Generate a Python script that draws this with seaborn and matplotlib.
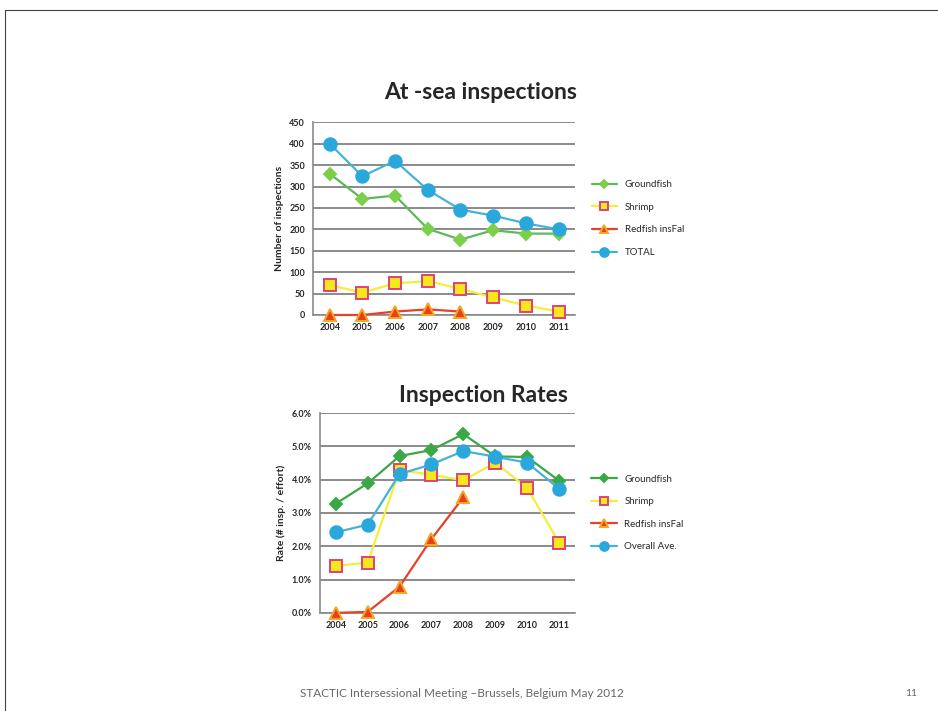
import numpy as np
import pandas as pd
import matplotlib
matplotlib.use("Agg")
import matplotlib.pyplot as plt
import seaborn as sns

years = [2004, 2005, 2006, 2007, 2008, 2009, 2010, 2011]

# at-sea inspections (counts)
groundfish_n = [330, 271, 279, 201, 176, 198, 190, 190]
shrimp_n = [70, 52, 74, 79, 61, 41, 22, 8]
redfish_n = [0, 0, 8, 13, 8, np.nan, np.nan, np.nan]
total_n = [400, 324, 360, 292, 246, 232, 214, 200]

# inspection rates (%)
groundfish_r = [3.28, 3.89, 4.71, 4.89, 5.37, 4.70, 4.68, 3.97]
shrimp_r = [1.41, 1.51, 4.29, 4.15, 3.98, 4.51, 3.75, 2.11]
redfish_r = [0.0, 0.03, 0.79, 2.22, 3.47, np.nan, np.nan, np.nan]
overall_r = [2.42, 2.65, 4.17, 4.46, 4.86, 4.69, 4.51, 3.73]

sns.set_theme(style="white")
plt.rcParams["font.family"] = ["Lato", "DejaVu Sans"]

fig = plt.figure(figsize=(9.38, 7.11), dpi=100)

# slide frame
fig.add_artist(plt.Line2D([0.005, 1.0], [0.986, 0.986], color="#444444", lw=0.8))
fig.add_artist(plt.Line2D([0.005, 0.005], [0.0, 0.986], color="#444444", lw=0.8))

styles = {
    "Groundfish": dict(color="#5cb85c", marker="D", mfc="#7ccf4a", mec="#7ccf4a", ms=6),
    "Shrimp": dict(color="#f2ee3a", marker="s", mfc="#f7e81c", mec="#e0407a", ms=8),
    "Redfish insFal": dict(color="#e8402a", marker="^", mfc="#e8401c", mec="#f5a623", ms=8),
    "TOTAL": dict(color="#45b3d9", marker="o", mfc="#2aa8dc", mec="#2aa8dc", ms=9),
}


def draw(ax, series, ylim, yticks, ylabels, ylab, title, legend_names, tpad):
    for (name, vals), lname in zip(series.items(), legend_names):
        st = styles[name]
        df = pd.DataFrame({"year": years, "v": vals}).dropna()
        sns.lineplot(data=df, x="year", y="v", ax=ax, color=st["color"], lw=1.6,
                     marker=st["marker"], markersize=st["ms"], markerfacecolor=st["mfc"],
                     markeredgecolor=st["mec"], markeredgewidth=1.4, label=lname,
                     clip_on=False, zorder=3)
    ax.set_xlim(2003.5, 2011.5)
    ax.set_ylim(*ylim)
    ax.set_yticks(yticks)
    ax.set_yticklabels(ylabels, fontsize=6.5, fontweight="bold")
    ax.set_xticks(years)
    ax.set_xticklabels([str(y) for y in years], fontsize=6.5, fontweight="bold")
    ax.yaxis.grid(True, color="#8a8a8a", lw=1.4)
    ax.set_axisbelow(True)
    for s in ["top", "right"]:
        ax.spines[s].set_visible(False)
    ax.spines["left"].set_color("#8a8a8a")
    ax.spines["bottom"].set_color("#8a8a8a")
    ax.spines["left"].set_linewidth(1.2)
    ax.spines["bottom"].set_linewidth(1.2)
    ax.tick_params(axis="both", length=0, pad=6)
    ax.set_xlabel("")
    ax.set_ylabel(ylab, fontsize=7.5, fontweight="bold")
    ax.set_title(title, fontsize=16.5, fontweight="bold", pad=tpad, x=0.64)
    ax.legend(loc="center left", bbox_to_anchor=(1.03, 0.5), frameon=False,
              fontsize=7, handlelength=2.6, labelspacing=1.4, markerscale=0.7)


ax1 = fig.add_axes([0.334, 0.557, 0.279, 0.271])
draw(ax1,
     {"Groundfish": groundfish_n, "Shrimp": shrimp_n, "Redfish insFal": redfish_n, "TOTAL": total_n},
     (0, 450), list(range(0, 451, 50)), [str(v) for v in range(0, 451, 50)],
     "Number of inspections", "At -sea inspections",
     ["Groundfish", "Shrimp", "Redfish insFal", "TOTAL"], 17)

ax2 = fig.add_axes([0.341, 0.138, 0.272, 0.281])
draw(ax2,
     {"Groundfish": groundfish_r, "Shrimp": shrimp_r, "Redfish insFal": redfish_r, "TOTAL": overall_r},
     (0, 6), list(range(0, 7)), [f"{v}.0%" for v in range(0, 7)],
     "Rate (# insp. / effort)", "Inspection Rates",
     ["Groundfish", "Shrimp", "Redfish insFal", "Overall Ave."], 8)
# bottom chart uses darker green
for line in ax2.get_lines()[:1]:
    line.set_color("#3aa845")
    line.set_markerfacecolor("#3aa845")
    line.set_markeredgecolor("#3aa845")
ax2.legend(loc="center left", bbox_to_anchor=(1.03, 0.5), frameon=False,
           fontsize=7, handlelength=2.6, labelspacing=1.4, markerscale=0.7)

fig.text(0.32, 0.025, "STACTIC Intersessional Meeting \u2013Brussels, Belgium May 2012",
         fontsize=8.5, color="#666666", va="center")
fig.text(0.965, 0.025, "11", fontsize=7.5, color="#666666", va="center")

fig.savefig("out.png", dpi=100)
